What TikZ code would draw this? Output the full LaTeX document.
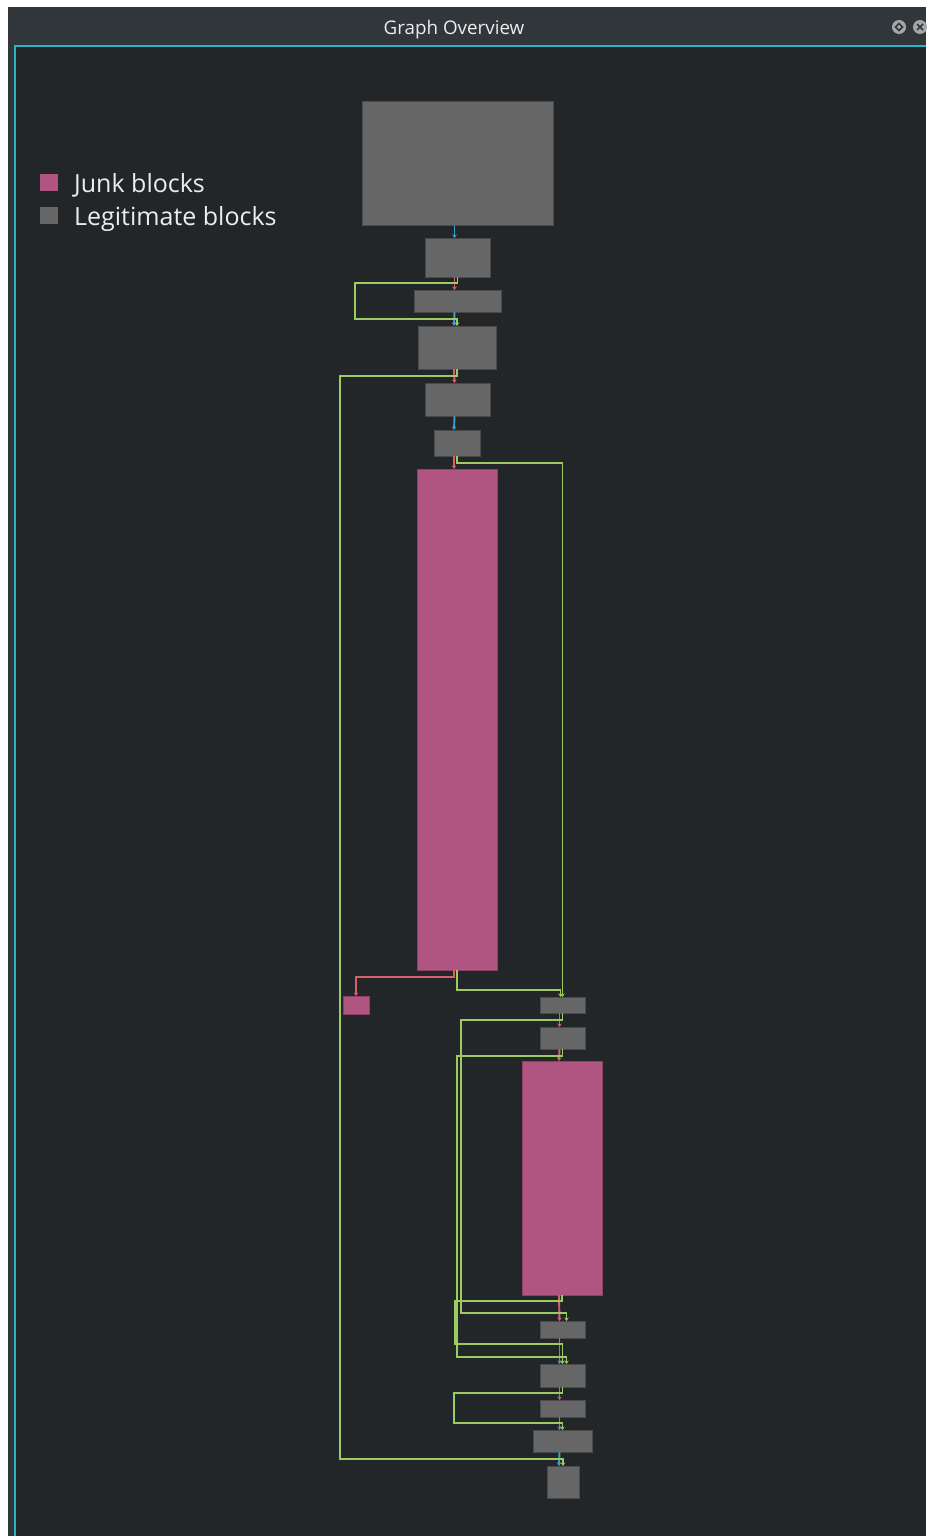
\documentclass[tikz,border=0pt]{standalone}
\usepackage{fontspec}
\setmainfont{Open Sans}
\usetikzlibrary{arrows.meta}

\definecolor{winbar}{HTML}{31363B}
\definecolor{panel}{HTML}{232629}
\definecolor{frameline}{HTML}{2BB3C6}
\definecolor{blockgray}{HTML}{666666}
\definecolor{blockedge}{HTML}{4A4A4A}
\definecolor{junkpink}{HTML}{B05482}
\definecolor{junkedge}{HTML}{8E4068}
\definecolor{truegreen}{HTML}{9CCB62}
\definecolor{falsered}{HTML}{D6606C}
\definecolor{jumpblue}{HTML}{3A9FCF}
\definecolor{labeltext}{HTML}{ECEDEE}

\begin{document}
\begin{tikzpicture}[x=1pt, y=-1pt,
  legit/.style={draw=blockedge, fill=blockgray, line width=0.8pt, inner sep=0pt, outer sep=0pt, anchor=north west},
  junk/.style={draw=junkedge, fill=junkpink, line width=0.8pt, inner sep=0pt, outer sep=0pt, anchor=north west},
  tedge/.style={truegreen, line width=1.9pt, -{Stealth[length=3.5pt,width=4.5pt]}},
  fedge/.style={falsered, line width=1.9pt, -{Stealth[length=3.5pt,width=4.5pt]}},
  uedge/.style={jumpblue, line width=1.9pt, -{Stealth[length=3.5pt,width=4.5pt]}}]

\useasboundingbox (0,0) rectangle (926,1536);

% window frame and panel
\fill[white] (0,0) rectangle (926,1536);
\fill[winbar] (8,7) rectangle (926,1536);
\fill[panel] (16,47) rectangle (926,1536);
\draw[frameline, line width=2pt] (14,46) -- (926,46);
\draw[frameline, line width=2pt] (15,45) -- (15,1536);
\node[labeltext, font=\fontsize{18.8}{22}\selectfont, anchor=base] (title) at (454,35) {Graph Overview};

% title bar buttons
\fill[gray!70] (899,27) circle (7);
\draw[winbar, line width=1.5pt] (899,23.5) -- (902.5,27) -- (899,30.5) -- (895.5,27) -- cycle;
\fill[gray!70] (920,27) circle (7);
\draw[winbar, line width=1.5pt] (917,24) -- (923,30) (917,30) -- (923,24);

% legend
\fill[junkpink] (40,174) rectangle (58,191);
\fill[blockgray] (40,207) rectangle (58,224);
\node[labeltext, font=\fontsize{25}{28}\selectfont, anchor=base west, inner sep=0pt] (ljunk) at (74,192) {Junk blocks};
\node[labeltext, font=\fontsize{25}{28}\selectfont, anchor=base west, inner sep=0pt] (llegit) at (74,225) {Legitimate blocks};

% blocks, top to bottom
\node[legit, minimum width=191, minimum height=124] (b1) at (362,101) {};
\node[legit, minimum width=65, minimum height=39] (b2) at (425,238) {};
\node[legit, minimum width=87, minimum height=22] (b3) at (414,290) {};
\node[legit, minimum width=78, minimum height=43] (b4) at (418,326) {};
\node[legit, minimum width=65, minimum height=33] (b5) at (425,383) {};
\node[legit, minimum width=46, minimum height=26] (b6) at (434,430) {};
\node[junk, minimum width=80, minimum height=501] (j1) at (417,469) {};
\node[junk, minimum width=26, minimum height=18] (j2) at (343,996) {};
\node[legit, minimum width=45, minimum height=16] (b7) at (540,997) {};
\node[legit, minimum width=45, minimum height=22] (b8) at (540,1027) {};
\node[junk, minimum width=80, minimum height=234] (j3) at (522,1061) {};
\node[legit, minimum width=45, minimum height=17] (b9) at (540,1321) {};
\node[legit, minimum width=45, minimum height=23] (b10) at (540,1364) {};
\node[legit, minimum width=45, minimum height=17] (b11) at (540,1400) {};
\node[legit, minimum width=59, minimum height=22] (b12) at (533,1430) {};
\node[legit, minimum width=32, minimum height=32] (b13) at (547,1466) {};

% plain jumps
\draw[uedge] ([xshift=-3pt]b1.south) -- ([xshift=-3pt]b2.north);
\draw[uedge] ([xshift=-3pt]b3.south) -- ([xshift=-3pt]b4.north);
\draw[uedge] ([xshift=-3pt]b5.south) -- ([xshift=-3pt]b6.north);
\draw[uedge] ([xshift=-3pt]b9.south) -- ([xshift=-3pt]b10.north);
\draw[uedge] ([xshift=-3pt]b11.south) -- ([xshift=-3pt]b12.north);
\draw[uedge] ([xshift=-3pt]b12.south) -- ([xshift=-4pt]b13.north);

% false branches
\draw[fedge] ([xshift=-3pt]b2.south) -- ([xshift=-3pt]b3.north);
\draw[fedge] ([xshift=-3pt]b4.south) -- ([xshift=-3pt]b5.north);
\draw[fedge] ([xshift=-3pt]b6.south) -- ([xshift=-3pt]j1.north);
\draw[fedge] ([xshift=-3pt]j1.south) -- ++(0,7) -| (j2.north);
\draw[fedge] ([xshift=-3pt]b7.south) -- ([xshift=-3pt]b8.north);
\draw[fedge] ([xshift=-3pt]b8.south) -- ([xshift=-3pt]j3.north);
\draw[fedge] ([xshift=-3pt]j3.south) -- ([xshift=-3pt]b9.north);
\draw[fedge] ([xshift=-3pt]b10.south) -- ([xshift=-3pt]b11.north);

% true branches
\draw[tedge] (b2.south) -- ++(0,6) -| (355,319) -| (b4.north);
\draw[tedge] (b4.south) -- ++(0,7) -| (340,1459) -| (b13.north);
\draw[tedge] (b6.south) -- ++(0,7) -| (b7.north);
\draw[tedge] (j1.south) -- ++(0,20) -| ([xshift=-2pt]b7.north);
\draw[tedge] (b7.south) -- ++(0,7) -| (461,1313) -| ([xshift=4pt]b9.north);
\draw[tedge] (b8.south) -- ++(0,7) -| (457,1357) -| ([xshift=4pt]b10.north);
\draw[tedge] (j3.south) -- ++(0,6) -| (455,1344) -| (b10.north);
\draw[tedge] (b10.south) -- ++(0,6) -| (454,1423) -| (b12.north);

\end{tikzpicture}
\end{document}
